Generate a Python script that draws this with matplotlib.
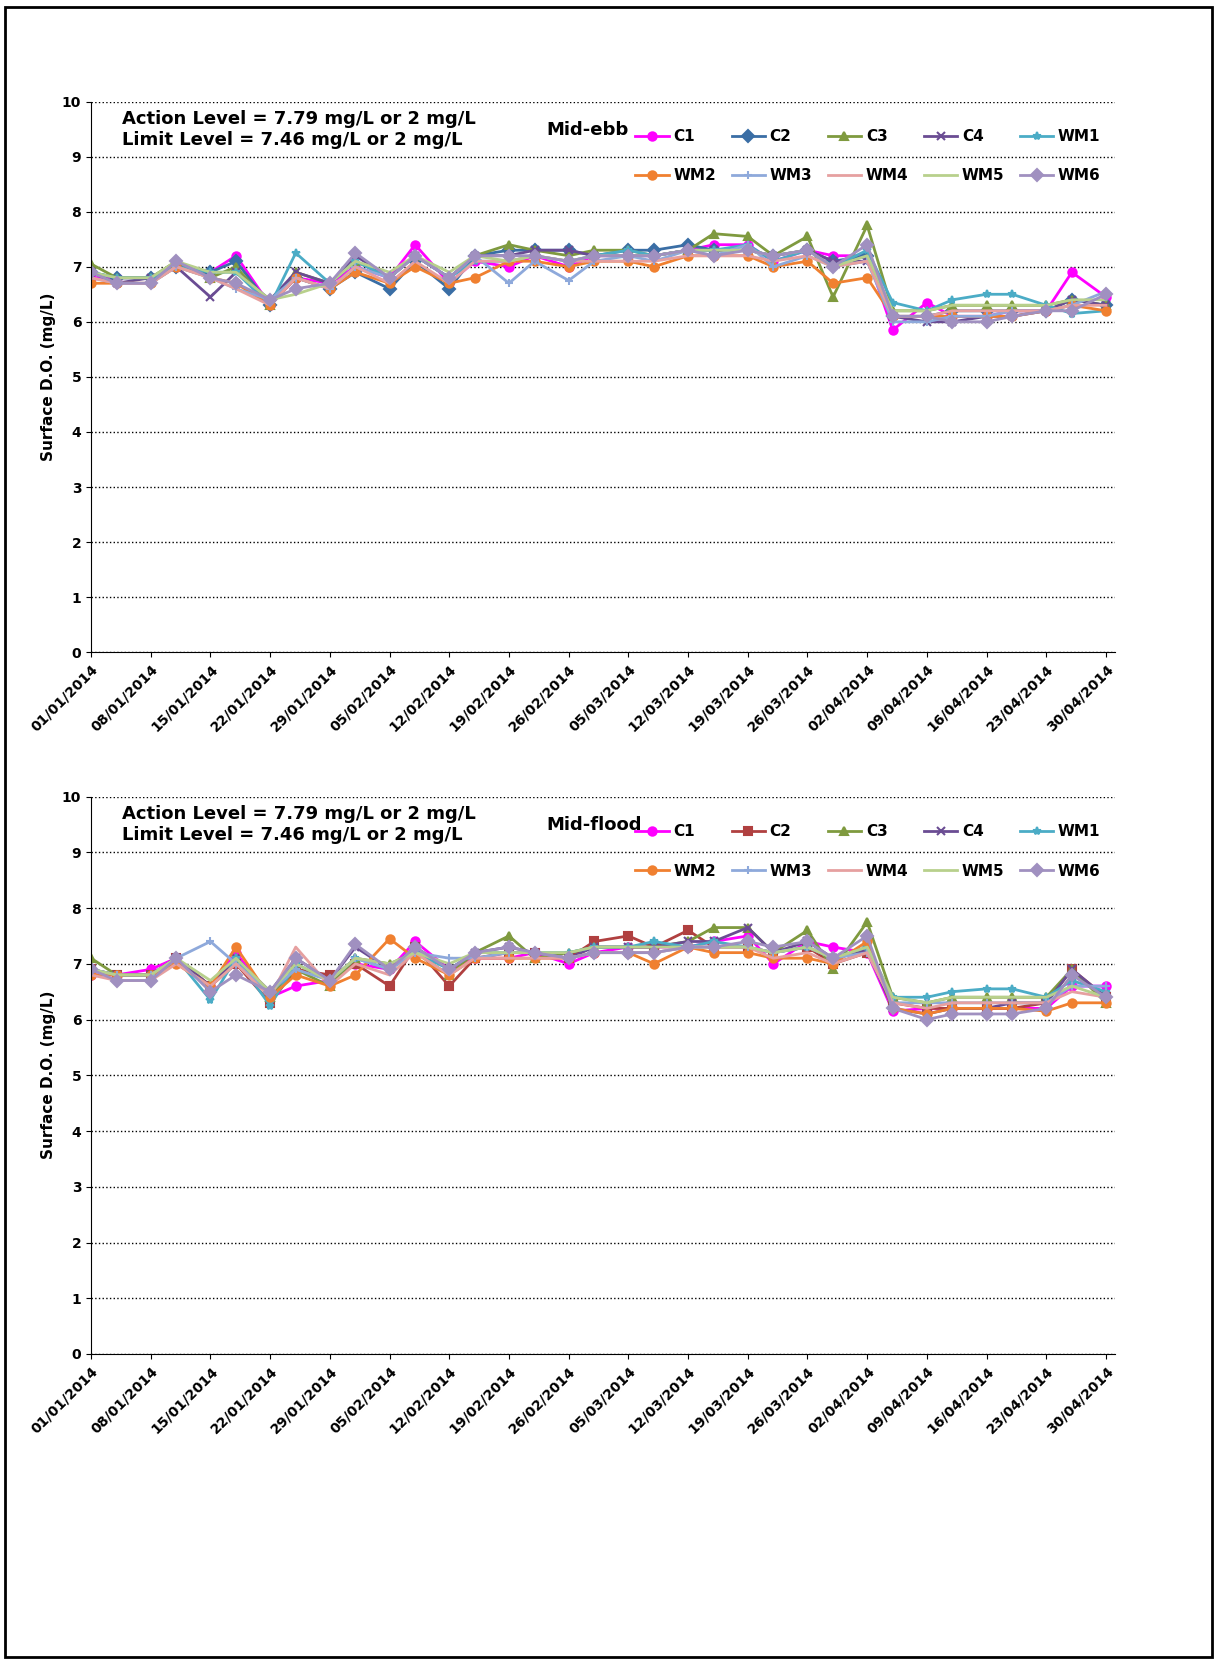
import matplotlib.pyplot as plt
import matplotlib.dates as mdates
from datetime import date, timedelta

dates = ["01/01", "04/01", "08/01", "11/01", "15/01", "18/01", "22/01", "25/01", "29/01",
         "01/02", "05/02", "08/02", "12/02", "15/02", "19/02", "22/02", "26/02",
         "01/03", "05/03", "08/03", "12/03", "15/03", "19/03", "22/03", "26/03", "29/03",
         "02/04", "05/04", "09/04", "12/04", "16/04", "19/04", "23/04", "26/04", "30/04"]
stations = ["C1", "C2", "C3", "C4", "WM1", "WM2", "WM3", "WM4", "WM5", "WM6"]

# Mid-ebb surface D.O. (mg/L)
ebb = {
    "C1":  [6.8, 6.8, 6.8, 7.0, 6.9, 7.2, 6.3, 6.8, 6.7, 7.0, 6.8, 7.4, 6.7, 7.1, 7.0, 7.2, 7.0, 7.2, 7.2, 7.2, 7.3, 7.4, 7.4, 7.1, 7.3, 7.2, 7.2, 5.85, 6.35, 6.1, 6.1, 6.2, 6.2, 6.9, 6.45],
    "C2":  [6.9, 6.8, 6.8, 7.0, 6.9, 7.1, 6.3, 6.8, 6.6, 6.9, 6.6, 7.1, 6.6, 7.2, 7.3, 7.3, 7.3, 7.2, 7.3, 7.3, 7.4, 7.3, 7.3, 7.2, 7.3, 7.1, 7.2, 6.1, 6.1, 6.2, 6.2, 6.2, 6.2, 6.4, 6.3],
    "C3":  [7.05, 6.8, 6.8, 7.1, 6.8, 7.0, 6.3, 6.9, 6.7, 7.1, 6.8, 7.2, 6.8, 7.2, 7.4, 7.3, 7.2, 7.3, 7.3, 7.2, 7.3, 7.6, 7.55, 7.2, 7.55, 6.45, 7.75, 6.2, 6.2, 6.3, 6.3, 6.3, 6.3, 6.4, 6.3],
    "C4":  [6.9, 6.7, 6.8, 7.0, 6.45, 6.9, 6.4, 6.9, 6.7, 7.2, 6.8, 7.2, 6.8, 7.2, 7.2, 7.3, 7.3, 7.2, 7.2, 7.2, 7.3, 7.3, 7.3, 7.2, 7.3, 7.1, 7.1, 6.1, 6.0, 6.0, 6.1, 6.1, 6.2, 6.4, 6.3],
    "WM1": [6.9, 6.8, 6.8, 7.0, 6.9, 6.9, 6.3, 7.25, 6.7, 7.1, 6.8, 7.2, 6.8, 7.1, 7.1, 7.2, 7.1, 7.2, 7.3, 7.2, 7.3, 7.3, 7.4, 7.1, 7.3, 7.0, 7.3, 6.35, 6.2, 6.4, 6.5, 6.5, 6.3, 6.15, 6.2],
    "WM2": [6.7, 6.7, 6.7, 7.0, 6.8, 6.7, 6.3, 6.8, 6.6, 6.9, 6.7, 7.0, 6.7, 6.8, 7.1, 7.1, 7.0, 7.1, 7.1, 7.0, 7.2, 7.2, 7.2, 7.0, 7.1, 6.7, 6.8, 6.1, 6.1, 6.1, 6.1, 6.1, 6.2, 6.3, 6.2],
    "WM3": [6.8, 6.7, 6.7, 7.0, 6.8, 6.6, 6.4, 6.8, 6.6, 7.0, 6.8, 7.2, 6.8, 7.2, 6.7, 7.1, 6.75, 7.1, 7.2, 7.1, 7.3, 7.2, 7.4, 7.0, 7.2, 7.0, 7.1, 6.0, 6.0, 6.1, 6.1, 6.2, 6.2, 6.3, 6.55],
    "WM4": [6.8, 6.7, 6.7, 7.0, 6.8, 6.6, 6.3, 6.8, 6.6, 7.0, 6.7, 7.1, 6.7, 7.1, 7.1, 7.2, 7.1, 7.1, 7.1, 7.1, 7.2, 7.2, 7.2, 7.1, 7.2, 7.0, 7.1, 6.1, 6.1, 6.2, 6.2, 6.2, 6.2, 6.3, 6.3],
    "WM5": [6.9, 6.8, 6.8, 7.1, 6.9, 6.9, 6.4, 6.5, 6.7, 7.1, 6.9, 7.2, 6.9, 7.2, 7.1, 7.2, 7.1, 7.2, 7.2, 7.2, 7.3, 7.3, 7.3, 7.2, 7.3, 7.0, 7.2, 6.2, 6.2, 6.3, 6.3, 6.3, 6.3, 6.4, 6.4],
    "WM6": [6.9, 6.7, 6.7, 7.1, 6.8, 6.7, 6.4, 6.6, 6.7, 7.25, 6.8, 7.2, 6.8, 7.2, 7.2, 7.2, 7.1, 7.2, 7.2, 7.2, 7.3, 7.2, 7.3, 7.2, 7.3, 7.0, 7.4, 6.1, 6.1, 6.0, 6.0, 6.1, 6.2, 6.2, 6.5],
}

# Mid-flood surface D.O. (mg/L)
flood = {
    "C1":  [6.8, 6.8, 6.9, 7.1, 6.6, 7.2, 6.4, 6.6, 6.7, 7.0, 6.9, 7.4, 6.9, 7.1, 7.1, 7.2, 7.0, 7.2, 7.3, 7.3, 7.3, 7.4, 7.5, 7.0, 7.4, 7.3, 7.2, 6.15, 6.2, 6.2, 6.2, 6.2, 6.2, 6.6, 6.6],
    "C2":  [6.9, 6.8, 6.8, 7.1, 6.6, 7.0, 6.3, 6.9, 6.8, 7.0, 6.6, 7.3, 6.6, 7.1, 7.2, 7.2, 7.1, 7.4, 7.5, 7.3, 7.6, 7.3, 7.3, 7.2, 7.3, 7.0, 7.2, 6.3, 6.2, 6.2, 6.2, 6.2, 6.3, 6.9, 6.4],
    "C3":  [7.1, 6.8, 6.8, 7.1, 6.6, 7.1, 6.4, 6.9, 6.6, 7.1, 7.0, 7.2, 6.8, 7.2, 7.5, 7.1, 7.2, 7.3, 7.3, 7.3, 7.4, 7.65, 7.65, 7.2, 7.6, 6.9, 7.75, 6.4, 6.3, 6.4, 6.4, 6.4, 6.4, 6.9, 6.3],
    "C4":  [6.9, 6.8, 6.8, 7.1, 6.6, 7.1, 6.5, 7.1, 6.7, 7.3, 6.9, 7.3, 6.9, 7.2, 7.3, 7.2, 7.1, 7.3, 7.3, 7.3, 7.4, 7.4, 7.65, 7.2, 7.4, 7.1, 7.25, 6.2, 6.1, 6.2, 6.2, 6.3, 6.3, 6.9, 6.4],
    "WM1": [6.9, 6.8, 6.8, 7.1, 6.35, 7.1, 6.25, 7.0, 6.7, 7.1, 6.9, 7.2, 6.9, 7.2, 7.2, 7.2, 7.2, 7.3, 7.3, 7.4, 7.3, 7.4, 7.3, 7.2, 7.3, 7.1, 7.3, 6.4, 6.4, 6.5, 6.55, 6.55, 6.4, 6.7, 6.5],
    "WM2": [6.8, 6.8, 6.8, 7.0, 6.6, 7.3, 6.4, 6.8, 6.6, 6.8, 7.45, 7.1, 6.8, 7.1, 7.1, 7.1, 7.1, 7.2, 7.2, 7.0, 7.3, 7.2, 7.2, 7.1, 7.1, 7.0, 7.4, 6.2, 6.1, 6.2, 6.2, 6.2, 6.15, 6.3, 6.3],
    "WM3": [6.9, 6.8, 6.8, 7.1, 7.4, 7.0, 6.5, 6.9, 6.7, 7.1, 6.9, 7.2, 7.1, 7.1, 7.2, 7.2, 7.1, 7.2, 7.2, 7.2, 7.3, 7.3, 7.3, 7.2, 7.3, 7.1, 7.2, 6.3, 6.3, 6.3, 6.3, 6.3, 6.3, 6.6, 6.6],
    "WM4": [6.8, 6.7, 6.7, 7.0, 6.6, 7.0, 6.4, 7.3, 6.6, 7.0, 6.8, 7.2, 6.8, 7.1, 7.1, 7.1, 7.1, 7.2, 7.2, 7.2, 7.3, 7.3, 7.3, 7.1, 7.2, 7.0, 7.2, 6.3, 6.2, 6.3, 6.3, 6.3, 6.3, 6.5, 6.4],
    "WM5": [6.9, 6.8, 6.8, 7.1, 6.7, 7.1, 6.5, 7.0, 6.7, 7.1, 7.0, 7.2, 7.0, 7.2, 7.2, 7.2, 7.2, 7.3, 7.3, 7.3, 7.3, 7.3, 7.3, 7.2, 7.3, 7.1, 7.3, 6.4, 6.3, 6.4, 6.4, 6.4, 6.4, 6.6, 6.4],
    "WM6": [6.9, 6.7, 6.7, 7.1, 6.5, 6.8, 6.5, 7.1, 6.7, 7.35, 6.9, 7.3, 6.9, 7.2, 7.3, 7.2, 7.1, 7.2, 7.2, 7.2, 7.3, 7.3, 7.4, 7.3, 7.4, 7.1, 7.5, 6.2, 6.0, 6.1, 6.1, 6.1, 6.2, 6.8, 6.4],
}

x = [date(2014, int(d[3:]), int(d[:2])) for d in dates]

colors = {"C1": "#FF00FF", "C2": "#3A6EA5", "C3": "#7F9A3F", "C4": "#6A4C93",
          "WM1": "#4BACC6", "WM2": "#F08030", "WM3": "#8EA9DB", "WM4": "#E6A0A0",
          "WM5": "#B8D08C", "WM6": "#A090C0"}
markers = {"C1": "o", "C2": "D", "C3": "^", "C4": "x", "WM1": "*", "WM2": "o",
           "WM3": "+", "WM4": "None", "WM5": "None", "WM6": "D"}

fig = plt.figure(figsize=(12.17, 16.64), dpi=100)
fig.patches.append(plt.Rectangle((0.004, 0.004), 0.992, 0.992, transform=fig.transFigure,
                                 fill=False, edgecolor="black", linewidth=2))

panels = [(ebb, "Mid-ebb", [0.0748, 0.608, 0.841, 0.331], "#3A6EA5", "D"),
          (flood, "Mid-flood", [0.0748, 0.1863, 0.841, 0.335], "#B04040", "s")]

ticks = [date(2014, 1, 1) + timedelta(days=7 * i) for i in range(18)]
# legend fills column by column; this order gives rows C1..WM1 / WM2..WM6
leg_order = [0, 5, 1, 6, 2, 7, 3, 8, 4, 9]

for data, title, rect, c2col, c2mark in panels:
    ax = fig.add_axes(rect)
    lines = []
    for s in stations:
        col = c2col if s == "C2" else colors[s]
        mk = c2mark if s == "C2" else markers[s]
        ln, = ax.plot(x, data[s], color=col, marker=mk, markersize=6, linewidth=2,
                      markeredgewidth=1.5, label=s)
        lines.append(ln)
    ax.set_ylim(0, 10)
    ax.set_yticks(range(11))
    ax.set_xlim(date(2014, 1, 1), date(2014, 5, 1))
    ax.set_xticks(ticks)
    ax.xaxis.set_major_formatter(mdates.DateFormatter("%d/%m/%Y"))
    plt.setp(ax.get_xticklabels(), rotation=45, ha="right", rotation_mode="anchor",
             fontweight="bold", fontsize=10)
    plt.setp(ax.get_yticklabels(), fontweight="bold", fontsize=10)
    ax.yaxis.grid(True, linestyle=":", color="black", linewidth=1)
    ax.set_ylabel("Surface D.O. (mg/L)", fontweight="bold", fontsize=11)
    for sp in ["top", "right"]:
        ax.spines[sp].set_visible(False)
    ax.text(0.03, 0.985, "Action Level = 7.79 mg/L or 2 mg/L\nLimit Level = 7.46 mg/L or 2 mg/L",
            transform=ax.transAxes, va="top", fontsize=13, fontweight="bold", linespacing=1.2)
    ax.text(0.445, 0.965, title, transform=ax.transAxes, va="top", fontsize=13, fontweight="bold")
    ax.legend([lines[i] for i in leg_order], [stations[i] for i in leg_order],
              loc="upper right", bbox_to_anchor=(1.0, 0.975), ncol=5, frameon=False,
              prop={"weight": "bold", "size": 11}, handlelength=2.2, columnspacing=1.0,
              labelspacing=1.6, handletextpad=0.3)

fig.savefig("out.png", dpi=100)
